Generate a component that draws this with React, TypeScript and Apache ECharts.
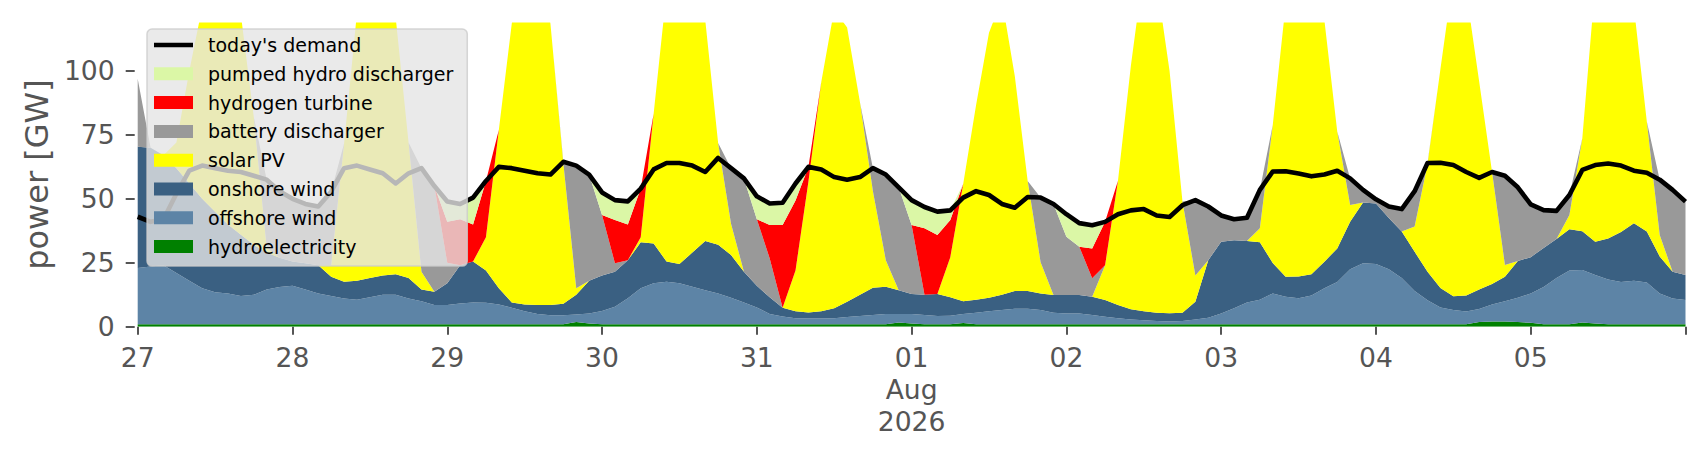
import React, { useEffect, useRef } from 'react';
import * as echarts from 'echarts';

// time axis: 2-hourly samples from 27 Jul 2026 00:00 to 06 Aug 2026 00:00
const START_UTC = Date.UTC(2026, 6, 27, 0, 0);
const STEP_HOURS = 2;
const N_POINTS = 121;
const times: string[] = Array.from({ length: N_POINTS }, (_, i) =>
  new Date(START_UTC + i * STEP_HOURS * 3600000).toISOString().slice(0, 16)
);
const MONTHS = ['Jan', 'Feb', 'Mar', 'Apr', 'May', 'Jun', 'Jul', 'Aug', 'Sep', 'Oct', 'Nov', 'Dec'];

// GW, one row per day (00,02,...,22h), final value = 06 Aug 00h
const hydroelectricity = [
  1, 1, 1, 1, 1, 1, 1, 1, 1, 1, 1, 1,
  1, 1, 1, 1, 1, 1, 1, 1, 1, 1, 1, 1,
  1, 1, 1, 1, 1, 1, 1, 1, 1, 1, 1.8, 1.3,
  1, 1, 1, 1, 1, 1, 1, 1, 1, 1, 1, 1,
  1, 1, 1, 1, 1, 1, 1, 1, 1, 1, 1, 1.6,
  1.3, 1, 1, 1, 1.4, 1, 1, 1, 1, 1, 1, 1,
  1, 1, 1, 1, 1, 1, 1, 1, 1, 1, 1, 1,
  1, 1, 1, 1, 1, 1, 1, 1, 1, 1, 1, 1,
  1, 1, 1, 1, 1, 1, 1, 1, 1.8, 2, 2, 1.8,
  1.5, 1, 1, 1, 1.6, 1.3, 1, 1, 1, 1, 1, 1,
  1,
];
const offshoreWind = [
  22, 22.5, 23, 20, 17, 14, 12.5, 12, 11, 11.5, 13.5, 14.5,
  15, 13.5, 12, 11, 10, 9.5, 10.5, 11.5, 11.5, 10, 9, 7.5,
  7.5, 8.1, 8.5, 8.4, 7.7, 6.4, 5, 4, 3.5, 3.5, 3, 3.9,
  5.1, 6.8, 10.1, 14, 16, 16.6, 16, 14.6, 13.3, 12, 10.3, 8.5,
  6.5, 4, 3, 2.3, 2.2, 2.2, 2.3, 2.8, 3.2, 3.6, 4, 3.4,
  3.7, 3.6, 3.2, 3.3, 3.6, 4.5, 5, 5.5, 6, 6, 5.5, 4.5,
  4.2, 4.2, 3.6, 2.9, 2.3, 1.8, 1.5, 1.2, 1, 1.2, 1.8, 2.5,
  4.2, 6.2, 8.5, 9.5, 12, 10.7, 10.1, 11.2, 14, 16.5, 21.5, 23.8,
  23.5, 21.5, 18, 13, 9.3, 6.5, 5.5, 4.9, 5.1, 6.7, 8, 9.5,
  11.5, 14.5, 18, 21, 20.6, 18.9, 17.5, 16.5, 17, 16.3, 12, 10,
  9.4,
];
const onshoreWind = [
  47.4, 46.5, 43, 41, 38, 35, 31.5, 27, 24, 19.5, 14.5, 11.5,
  9.5, 10.3, 11, 7.5, 6.6, 7.5, 7.5, 7.5, 8, 8, 4.5, 5.2,
  8.5, 14.9, 16, 12.6, 6.3, 2.1, 2.7, 3.5, 4, 4.5, 7.7, 12.8,
  13.9, 13.7, 14.9, 18, 15.5, 7.9, 7.5, 13.4, 19.2, 19, 16.7, 12,
  8.5, 6.5, 3.4, 2.7, 2.4, 2.8, 3.9, 6, 8.3, 10.6, 10.6, 9.3,
  7.8, 7.9, 8.6, 7.2, 5, 5, 5.3, 6, 7, 7, 6.5, 6.9,
  7.2, 7.2, 7.1, 6.5, 5.2, 4, 3.5, 3.3, 3.3, 3.3, 7, 22.5,
  28, 26.6, 24, 22.5, 11.9, 7.8, 8.5, 8.3, 10.4, 13.1, 18.5, 23.8,
  23.7, 20, 18.2, 15.3, 11.2, 7.6, 5.4, 6.3, 7.6, 8, 9.5, 14.4,
  14.2, 15.3, 15.3, 16.1, 15.1, 13, 16, 19.5, 22.5, 19.9, 14.5, 10.5,
  9.8,
];
const solarPV = [
  0, 0, 0, 10, 44, 75, 105, 110, 86, 50, 2, 0,
  0, 0, 0, 4.5, 54, 104.8, 131, 130, 100.5, 53, 7, 0,
  0, 0, 0, 13, 62, 109, 141.3, 141.5, 110, 54.9, 2.5, 0,
  0, 0, 0, 2, 50.8, 105.5, 125.5, 121, 86.5, 39.8, 12.3, 0,
  0, 0, 0, 16, 51.1, 89.8, 116.8, 107.2, 75.2, 37.8, 10.4, 0,
  0, 0, 0, 15.7, 45.8, 76.2, 103.7, 115.5, 84, 43, 12.2, 0,
  0, 0, 0, 13.6, 48.6, 95.2, 134, 129.5, 94.7, 43.5, 10.2, 0,
  0, 0, 0, 5.5, 54, 106.5, 130.4, 129.5, 94.6, 45.7, 6.6, 0,
  0, 0, 0, 9.9, 42.1, 85.7, 125.1, 118.8, 81.5, 43.9, 4.6, 0,
  0, 0, 0, 5.6, 36.4, 100.8, 115.5, 113, 84.5, 43, 8.4, 0,
  0,
];
const batteryDischarger = [
  26.6, 0, 0, 0, 0, 0, 0, 0, 0, 0, 26.5, 26,
  24.5, 23.2, 23, 28.8, 0, 0, 0, 0, 0, 0, 40.5, 41.3,
  8, 0, 0, 0, 0, 0, 0, 0, 0, 0.6, 48, 41.5,
  23.7, 3.3, 0, 0, 0, 0, 0, 0, 0, 0, 21.7, 36.5,
  26, 15.2, 0, 0, 0, 0, 0, 0, 0, 9, 33.5, 40.2,
  27, 0, 0, 0, 0, 0, 0, 0, 0, 0, 25.3, 35.6,
  22.8, 18.9, 7.2, 0, 0, 0, 0, 0, 0, 0, 29.5, 21,
  10.3, 8.2, 9.1, 15, 0, 0, 0, 0, 0, 0, 10.4, 4.9,
  1.6, 4.5, 8.8, 13.8, 0.4, 0, 0, 0, 0, 0, 34.9, 28.8,
  20.6, 14.8, 11, 7.8, 0, 0, 0, 0, 0, 0, 21.6, 32,
  28.7,
];
const hydrogenTurbine = [
  0, 0, 0, 0, 0, 0, 0, 0, 0, 0, 0, 0,
  0, 0, 0, 0, 0, 0, 0, 0, 0, 0, 0, 0,
  16, 18, 14.5, 22, 0, 0, 0, 0, 0, 0, 0, 0,
  0, 16.9, 14, 19, 0, 0, 0, 0, 0, 0, 0, 0,
  0, 13.1, 32.4, 27.4, 5.8, 0, 0, 0, 0, 0, 0, 0,
  0, 26, 23.1, 14.5, 0, 0, 0, 0, 0, 0, 0, 0,
  0, 0, 11.7, 17, 0, 0, 0, 0, 0, 0, 0, 0,
  0, 0, 0, 0, 0, 0, 0, 0, 0, 0, 0, 0,
  0, 0, 0, 0, 0, 0, 0, 0, 0, 0, 0, 0,
  0, 0, 0, 0, 0, 0, 0, 0, 0, 0, 0, 0,
  0,
];
const pumpedHydroDischarger = [
  0, 0, 0, 0, 0, 0, 0, 0, 0, 0, 0, 0,
  0, 0, 0, 0, 0, 0, 0, 0, 0, 0, 0, 0,
  8, 6, 10.5, 0, 0, 0, 0, 0, 0, 0, 0, 0,
  8.8, 7.8, 9, 0, 0, 0, 0, 0, 0, 0, 0, 0,
  9, 8.4, 8.7, 6.6, 0, 0, 0, 0, 0, 0, 0, 0,
  9.7, 8.3, 9.1, 3.8, 0, 0, 0, 0, 0, 0, 0, 0,
  8.8, 9.2, 9.1, 0, 0, 0, 0, 0, 0, 0, 0, 0,
  0, 0, 0, 0, 0, 0, 0, 0, 0, 0, 0, 0,
  0, 0, 0, 0, 0, 0, 0, 0, 0, 0, 0, 0,
  0, 0, 0, 0, 0, 0, 0, 0, 0, 0, 0, 0,
  0,
];
const todaysDemand = [
  43, 41, 42, 52, 61, 63, 62, 61, 60.5, 59, 57.5, 53,
  50, 48, 47, 52.8, 62, 63, 61.5, 60, 56, 60, 62, 55,
  49, 48, 50.5, 57, 62.5, 62, 61, 60, 59.5, 64.5, 63, 59.5,
  52.5, 49.5, 49, 54, 61.5, 64, 64, 63, 60.5, 66, 62, 58,
  51, 48.2, 48.5, 56, 62.5, 61.5, 58.5, 57.5, 58.5, 62, 59.5, 54.5,
  49.5, 46.8, 45, 45.5, 50.5, 53, 51.5, 48, 46.5, 50.7, 50.5, 48,
  44, 40.5, 39.7, 41, 44, 45.5, 46, 43.5, 42.9, 47.5, 49.5, 47,
  43.5, 42, 42.6, 53.5, 60.7, 60.8, 59.9, 58.8, 59.5, 61, 58, 53.5,
  49.8, 47, 46, 53, 64, 64.1, 63.2, 60.5, 58.2, 60.5, 59, 54.5,
  47.8, 45.6, 45.3, 51.5, 61.3, 63.2, 63.8, 63, 61, 60.2, 57.5, 53.5,
  48.9,
];

const yTicks = [0, 25, 50, 75, 100];
const Y_MAX = 119;

const STACK = [
  { name: 'hydroelectricity', data: hydroelectricity, color: '#008000' },
  { name: 'offshore wind', data: offshoreWind, color: '#5d84a6' },
  { name: 'onshore wind', data: onshoreWind, color: '#3a6082' },
  { name: 'solar PV', data: solarPV, color: '#ffff00' },
  { name: 'battery discharger', data: batteryDischarger, color: '#999999' },
  { name: 'hydrogen turbine', data: hydrogenTurbine, color: '#ff0000' },
  { name: 'pumped hydro discharger', data: pumpedHydroDischarger, color: '#dbf7a6' },
];
const DEMAND_NAME = "today's demand";
const LEGEND_ORDER = [
  DEMAND_NAME,
  'pumped hydro discharger',
  'hydrogen turbine',
  'battery discharger',
  'solar PV',
  'onshore wind',
  'offshore wind',
  'hydroelectricity',
];

const FONT = 'DejaVu Sans';
const TICK_GRAY = '#555555';

function formatTime(value: string, index: number): string {
  if (index % 12 !== 0 || index === N_POINTS - 1) return '';
  const d = new Date(value + ':00Z');
  const day = d.getUTCDate();
  const dd = String(day).padStart(2, '0');
  if (day === 1) return dd + '\n' + MONTHS[d.getUTCMonth()] + '\n' + d.getUTCFullYear();
  return dd;
}

export default function App() {
  const ref = useRef<HTMLDivElement>(null);

  useEffect(() => {
    if (!ref.current) return;
    const chart = echarts.init(ref.current, undefined, { renderer: 'svg' });

    const areaSeries = STACK.map((s) => ({
      type: 'line',
      name: s.name,
      data: s.data,
      stack: 'total',
      symbol: 'none',
      showSymbol: false,
      color: s.color,
      itemStyle: { color: s.color },
      lineStyle: { width: 0, color: s.color },
      areaStyle: { color: s.color, opacity: 1 },
      emphasis: { disabled: true },
      z: 2,
    }));

    const option: any = {
      animation: false,
      backgroundColor: '#ffffff',
      grid: { left: 137.7, right: 20.5, top: 22.4, bottom: 133.3, containLabel: false },
      legend: {
        orient: 'vertical',
        left: 147,
        top: 29,
        data: LEGEND_ORDER.map((n) =>
          n === DEMAND_NAME ? { name: n, icon: 'path://M0,0H40V4.8H0Z' } : { name: n, icon: 'rect' }
        ),
        itemWidth: 39,
        itemHeight: 13,
        itemGap: 9.8,
        padding: [6.5, 14, 10, 7],
        backgroundColor: 'rgba(229,229,229,0.8)',
        borderColor: 'rgba(204,204,204,0.8)',
        borderWidth: 1.5,
        borderRadius: 5,
        itemStyle: { borderWidth: 0 },
        selectedMode: false,
        textStyle: {
          fontFamily: FONT,
          fontSize: 19,
          color: '#000000',
          padding: [0, 0, 0, 10],
        },
        z: 10,
      },
      xAxis: {
        type: 'category',
        data: times,
        boundaryGap: false,
        offset: 3,
        axisLine: { show: false },
        splitLine: { show: false },
        axisTick: {
          show: true,
          alignWithLabel: true,
          interval: (i: number) => i % 12 === 0,
          length: 8,
          lineStyle: { color: TICK_GRAY, width: 2 },
        },
        axisLabel: {
          interval: (i: number) => i % 12 === 0,
          formatter: formatTime,
          fontFamily: FONT,
          fontSize: 26.6,
          color: TICK_GRAY,
          lineHeight: 32,
          margin: 12,
        },
      },
      yAxis: {
        type: 'value',
        min: 0,
        max: Y_MAX,
        offset: 3,
        name: 'power [GW]',
        nameLocation: 'middle',
        nameGap: 82,
        nameTextStyle: { fontFamily: FONT, fontSize: 32, color: TICK_GRAY },
        axisLine: { show: false },
        splitLine: { show: false },
        axisTick: {
          show: true,
          length: 9,
          customValues: yTicks,
          lineStyle: { color: TICK_GRAY, width: 2 },
        },
        axisLabel: {
          customValues: yTicks,
          fontFamily: FONT,
          fontSize: 26.6,
          color: TICK_GRAY,
          margin: 20,
        },
      },
      series: [
        ...areaSeries,
        {
          type: 'line',
          name: DEMAND_NAME,
          data: todaysDemand,
          symbol: 'none',
          showSymbol: false,
          color: '#000000',
          itemStyle: { color: '#000000' },
          lineStyle: { color: '#000000', width: 4.6, join: 'round' },
          emphasis: { disabled: true },
          z: 3,
        },
      ],
    };

    chart.setOption(option);
    return () => chart.dispose();
  }, []);

  return (
    <div
      ref={ref}
      style={{ position: 'fixed', left: 0, top: 0, width: 1706, height: 460, background: '#fff' }}
    />
  );
}
